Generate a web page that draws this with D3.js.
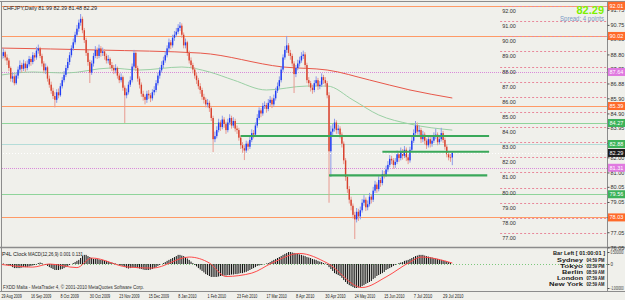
<!DOCTYPE html>
<html>
<head>
<meta charset="utf-8">
<script src="https://cdn.jsdelivr.net/npm/d3@7"></script>
<style>
  html, body { margin: 0; padding: 0; background: #f0f0eb; }
  svg { display: block; }
  text { font-family: "Liberation Sans", Arial, sans-serif; }
</style>
</head>
<body>
<div id="chart"></div>
<script>
// ---- data ----
const title = "CHFJPY,Daily  81.99 82.39 81.48 82.29";
const lastPrice = 82.29;
const spreadText = "Spread: 4 points";

const opens = [
  88.50, 88.70, 88.95, 88.60, 88.40, 87.90, 87.20, 87.35, 86.90, 87.40,
  87.80, 88.10, 87.85, 88.20, 87.90, 88.15, 88.50, 88.30, 88.75, 88.60,
  89.05, 89.20, 88.70, 88.20, 87.75, 87.95, 87.20, 86.80, 86.40, 86.05,
  85.80, 86.30, 86.10, 86.70, 87.10, 87.45, 87.90, 88.30, 88.75, 89.20,
  89.60, 90.10, 90.50, 90.90, 91.15, 90.40, 89.75, 88.90, 88.30, 87.60,
  88.20, 88.70, 89.10, 88.70, 89.20, 88.90, 89.00, 88.70, 88.40, 88.50,
  88.10, 87.90, 87.75, 87.90, 87.40, 87.10, 87.30, 86.60, 86.10, 86.30,
  86.80, 87.10, 88.00, 88.90, 87.90, 87.20, 86.80, 86.20, 86.00, 85.80,
  86.20, 86.10, 85.90, 86.30, 86.45, 86.90, 87.40, 87.75, 88.10, 88.40,
  88.75, 89.20, 89.60, 89.40, 89.90, 90.10, 90.30, 90.55, 90.70, 90.10,
  89.40, 89.60, 88.90, 88.40, 88.10, 87.80, 87.40, 87.10, 86.70, 86.45,
  86.00, 85.80, 85.50, 85.60, 85.25, 84.60, 83.20, 83.40, 83.80, 84.30,
  84.00, 84.50, 84.20, 83.80, 84.30, 84.60, 84.10, 84.40, 83.90, 83.80,
  83.30, 82.80, 82.60, 82.45, 82.90, 82.70, 83.15, 83.60, 83.50, 84.10,
  84.60, 85.10, 84.90, 85.40, 85.45, 85.20, 85.60, 85.80, 85.50, 85.90,
  86.40, 86.70, 87.10, 87.80, 88.60, 89.10, 89.40, 88.90, 88.70, 88.20,
  87.50, 87.90, 88.20, 88.40, 88.70, 88.80, 88.10, 87.10, 86.90, 86.60,
  86.45, 86.90, 87.10, 86.70, 86.80, 87.30, 87.10, 86.90, 86.10, 82.40,
  83.70, 83.90, 84.30, 83.80, 83.90, 83.50, 82.90, 81.80, 80.70, 79.90,
  79.20, 78.80, 78.20, 77.90, 78.40, 78.10, 78.50, 79.00, 79.20, 78.70,
  78.90, 79.40, 79.20, 79.80, 80.20, 79.90, 80.50, 80.30, 80.90, 80.85,
  81.20, 81.50, 81.90, 81.80, 81.50, 81.70, 82.20, 81.95, 82.40, 82.10,
  82.50, 82.00, 81.80, 82.50, 83.10, 83.60, 84.10, 83.70, 83.80, 83.20,
  83.50, 83.10, 82.80, 83.20, 82.90, 83.10, 83.40, 83.50, 83.00, 83.20,
  83.60, 83.15, 82.70, 82.20, 82.00, 81.99
];
const highs = [
  88.95, 89.20, 89.05, 88.80, 88.55, 88.00, 87.60, 87.50, 87.55, 88.00,
  88.40, 88.25, 88.45, 88.35, 88.40, 88.70, 88.65, 88.95, 88.90, 89.30,
  89.45, 89.30, 88.85, 88.35, 88.20, 88.05, 87.40, 87.00, 86.60, 86.30,
  86.50, 86.55, 86.90, 87.30, 87.70, 88.10, 88.55, 88.95, 89.40, 89.85,
  90.30, 90.75, 91.10, 91.47, 91.30, 90.55, 89.90, 89.10, 88.45, 88.40,
  88.90, 89.35, 89.25, 89.45, 89.35, 89.25, 89.15, 88.85, 88.75, 88.60,
  88.30, 88.10, 88.15, 88.00, 87.55, 87.55, 87.40, 86.75, 86.55, 87.00,
  87.35, 88.20, 89.10, 89.00, 88.05, 87.35, 86.95, 86.40, 86.15, 86.40,
  86.45, 86.25, 86.50, 86.70, 87.10, 87.60, 87.95, 88.35, 88.65, 89.00,
  89.40, 89.85, 89.75, 90.10, 90.35, 90.55, 90.80, 90.94, 90.85, 90.25,
  89.85, 89.70, 89.05, 88.60, 88.25, 87.95, 87.60, 87.25, 86.90, 86.60,
  86.20, 85.95, 85.85, 85.75, 85.40, 84.75, 83.70, 84.05, 84.55, 84.45,
  84.75, 84.65, 84.35, 84.55, 84.85, 84.75, 84.65, 84.55, 84.10, 83.95,
  83.45, 83.00, 82.80, 83.10, 83.05, 83.40, 83.85, 83.80, 84.30, 84.85,
  85.30, 85.25, 85.60, 85.70, 85.60, 85.85, 86.05, 85.95, 86.15, 86.60,
  86.95, 87.35, 88.00, 88.80, 89.35, 90.02, 89.55, 89.10, 88.85, 88.35,
  88.10, 88.45, 88.65, 88.95, 89.05, 88.95, 88.25, 87.30, 87.05, 86.80,
  87.10, 87.35, 87.25, 87.05, 87.55, 87.45, 87.30, 87.05, 86.30, 84.10,
  84.20, 84.55, 84.45, 84.15, 84.05, 83.65, 83.05, 81.95, 80.85, 80.10,
  79.40, 78.95, 78.40, 78.65, 78.60, 78.75, 79.25, 79.50, 79.35, 79.15,
  79.65, 79.55, 80.05, 80.45, 80.35, 80.75, 80.65, 81.15, 81.10, 81.45,
  81.75, 82.15, 82.10, 81.95, 81.95, 82.45, 82.35, 82.65, 82.55, 82.75,
  82.65, 82.20, 82.70, 83.35, 83.85, 84.40, 84.30, 84.10, 83.95, 83.75,
  83.65, 83.25, 83.45, 83.35, 83.35, 83.65, 83.90, 83.65, 83.45, 83.95,
  83.75, 83.30, 82.85, 82.40, 82.30, 82.39
];
const lows = [
  88.30, 88.55, 88.40, 88.10, 87.70, 87.00, 86.95, 86.75, 86.80, 87.20,
  87.60, 87.60, 87.70, 87.65, 87.75, 88.00, 88.05, 88.15, 88.35, 88.45,
  88.85, 88.55, 88.00, 87.55, 87.50, 87.00, 86.60, 86.20, 85.85, 85.30,
  85.60, 85.90, 86.00, 86.55, 86.95, 87.30, 87.75, 88.10, 88.60, 89.05,
  89.45, 89.95, 90.30, 90.70, 90.20, 89.55, 88.70, 88.05, 86.91, 87.45,
  88.00, 88.55, 88.50, 88.55, 88.65, 88.70, 88.45, 88.20, 88.20, 87.85,
  87.70, 87.50, 87.55, 87.20, 86.90, 86.95, 86.40, 84.27, 85.90, 86.15,
  86.65, 86.95, 87.85, 87.70, 87.00, 86.55, 86.00, 85.75, 85.50, 85.60,
  85.85, 85.65, 85.75, 86.10, 86.30, 86.75, 87.20, 87.60, 87.90, 88.25,
  88.60, 89.00, 89.15, 89.25, 89.70, 89.95, 90.15, 90.35, 89.90, 89.20,
  89.20, 88.70, 88.20, 87.90, 87.55, 87.20, 86.85, 86.50, 86.20, 85.80,
  85.55, 85.30, 85.30, 85.00, 84.40, 82.35, 83.00, 83.25, 83.65, 83.75,
  83.85, 83.95, 83.55, 83.65, 84.15, 83.90, 83.95, 83.70, 83.55, 83.10,
  82.55, 82.30, 81.82, 82.30, 82.45, 82.55, 83.00, 83.25, 83.35, 83.95,
  84.45, 84.65, 84.75, 85.20, 84.95, 85.05, 85.40, 85.25, 85.35, 85.75,
  86.25, 86.55, 86.95, 87.65, 88.45, 88.90, 88.70, 88.45, 88.00, 86.25,
  87.30, 87.75, 88.00, 88.25, 88.50, 87.90, 86.90, 86.65, 86.35, 86.20,
  86.30, 86.70, 86.45, 86.50, 86.65, 86.85, 86.65, 85.90, 79.00, 80.70,
  83.45, 83.70, 83.55, 83.55, 83.25, 82.65, 81.55, 80.45, 79.65, 78.95,
  78.50, 77.95, 76.60, 77.70, 77.80, 77.90, 78.35, 78.80, 78.45, 78.50,
  78.75, 78.95, 79.05, 79.65, 79.65, 79.75, 80.05, 80.15, 80.60, 80.70,
  81.05, 81.35, 81.55, 81.25, 81.30, 81.55, 81.70, 81.80, 81.85, 81.95,
  81.75, 81.55, 81.65, 82.35, 82.95, 83.45, 83.50, 83.45, 82.95, 83.00,
  82.85, 82.55, 82.65, 82.65, 82.70, 82.95, 83.20, 82.80, 82.85, 83.05,
  82.95, 82.50, 82.00, 81.80, 81.70, 81.48
];
const closes = [
  88.70, 88.95, 88.60, 88.40, 87.90, 87.20, 87.35, 86.90, 87.40, 87.80,
  88.10, 87.85, 88.20, 87.90, 88.15, 88.50, 88.30, 88.75, 88.60, 89.05,
  89.20, 88.70, 88.20, 87.75, 87.95, 87.20, 86.80, 86.40, 86.05, 85.80,
  86.30, 86.10, 86.70, 87.10, 87.45, 87.90, 88.30, 88.75, 89.20, 89.60,
  90.10, 90.50, 90.90, 91.15, 90.40, 89.75, 88.90, 88.30, 87.60, 88.20,
  88.70, 89.10, 88.70, 89.20, 88.90, 89.00, 88.70, 88.40, 88.50, 88.10,
  87.90, 87.75, 87.90, 87.40, 87.10, 87.30, 86.60, 86.10, 86.30, 86.80,
  87.10, 88.00, 88.90, 87.90, 87.20, 86.80, 86.20, 86.00, 85.80, 86.20,
  86.10, 85.90, 86.30, 86.45, 86.90, 87.40, 87.75, 88.10, 88.40, 88.75,
  89.20, 89.60, 89.40, 89.90, 90.10, 90.30, 90.55, 90.70, 90.10, 89.40,
  89.60, 88.90, 88.40, 88.10, 87.80, 87.40, 87.10, 86.70, 86.45, 86.00,
  85.80, 85.50, 85.60, 85.25, 84.60, 83.20, 83.40, 83.80, 84.30, 84.00,
  84.50, 84.20, 83.80, 84.30, 84.60, 84.10, 84.40, 83.90, 83.80, 83.30,
  82.80, 82.60, 82.45, 82.90, 82.70, 83.15, 83.60, 83.50, 84.10, 84.60,
  85.10, 84.90, 85.40, 85.45, 85.20, 85.60, 85.80, 85.50, 85.90, 86.40,
  86.70, 87.10, 87.80, 88.60, 89.10, 89.40, 88.90, 88.70, 88.20, 87.50,
  87.90, 88.20, 88.40, 88.70, 88.80, 88.10, 87.10, 86.90, 86.60, 86.45,
  86.90, 87.10, 86.70, 86.80, 87.30, 87.10, 86.90, 86.10, 82.40, 83.70,
  83.90, 84.30, 83.80, 83.90, 83.50, 82.90, 81.80, 80.70, 79.90, 79.20,
  78.80, 78.20, 77.90, 78.40, 78.10, 78.50, 79.00, 79.20, 78.70, 78.90,
  79.40, 79.20, 79.80, 80.20, 79.90, 80.50, 80.30, 80.90, 80.85, 81.20,
  81.50, 81.90, 81.80, 81.50, 81.70, 82.20, 81.95, 82.40, 82.10, 82.50,
  82.00, 81.80, 82.50, 83.10, 83.60, 84.10, 83.70, 83.80, 83.20, 83.50,
  83.10, 82.80, 83.20, 82.90, 83.10, 83.40, 83.50, 83.00, 83.20, 83.60,
  83.15, 82.70, 82.20, 82.00, 81.99, 82.29
];

// MACD(12,26,9) main values, one per bar
const macdValues = [
  0.04, 0.02, 0, -0.04, -0.06,
  -0.08, -0.13, -0.17, -0.17, -0.17, -0.17, -0.15, -0.13, -0.13, -0.13, -0.10, -0.08, -0.06, -0.04, -0.02,
  0.04, 0.06, 0.04, 0, -0.04,
  -0.08, -0.13, -0.17, -0.21, -0.25, -0.25, -0.25, -0.23, -0.21, -0.17, -0.13, -0.08, -0.04, 0, 0.04, 0.08, 0.13,
  0.17, 0.25, 0.33, 0.38, 0.38, 0.33, 0.29, 0.25,
  0.21, 0.21, 0.21, 0.19, 0.17, 0.17, 0.15, 0.13, 0.10, 0.08, 0.06, 0.04, 0.02, 0, -0.04,
  -0.06, -0.08, -0.13, -0.17, -0.19, -0.17, -0.15, -0.13, -0.15, -0.17, -0.19, -0.21, -0.23, -0.25, -0.25, -0.25, -0.23, -0.21, -0.17, -0.13,
  -0.08, -0.04, 0, 0.04, 0.08, 0.13, 0.17,
  0.21, 0.25, 0.29, 0.33, 0.38, 0.38, 0.35, 0.33, 0.29, 0.23, 0.17, 0.10, 0.04,
  -0.04, -0.10, -0.17, -0.23, -0.29, -0.35, -0.42, -0.46, -0.50, -0.54, -0.54, -0.54, -0.54, -0.52, -0.50,
  -0.50, -0.48, -0.48, -0.46, -0.46, -0.44, -0.44, -0.42, -0.42, -0.40,
  -0.38, -0.38, -0.35, -0.33, -0.29, -0.25, -0.21, -0.17, -0.13, -0.08, -0.06,
  -0.04, -0.02, 0, 0.02,
  0.04, 0.08, 0.13, 0.17, 0.21, 0.25, 0.29, 0.33, 0.38, 0.42, 0.46, 0.50, 0.50, 0.48, 0.46, 0.44,
  0.42, 0.40, 0.38, 0.35, 0.33, 0.29, 0.27, 0.25, 0.21, 0.19, 0.17, 0.13, 0.10, 0.08, 0.04, 0.02,
  -0.04, -0.13, -0.21, -0.29, -0.38, -0.42, -0.46, -0.50, -0.58, -0.67, -0.75, -0.83, -0.88, -0.92, -0.96, -1.00, -1.00, -0.98,
  -0.96, -0.92, -0.88, -0.83, -0.79, -0.75, -0.71, -0.63, -0.58, -0.50, -0.46, -0.42, -0.38, -0.33, -0.25, -0.21,
  -0.17, -0.13, -0.08, -0.04, 0, 0.04, 0.06, 0.08, 0.13, 0.15, 0.17,
  0.21, 0.25, 0.29, 0.33, 0.35, 0.38, 0.38, 0.38, 0.35, 0.33, 0.31,
  0.29, 0.27, 0.25, 0.23, 0.21, 0.19, 0.17, 0.15, 0.13, 0.10, 0.08, 0.04, 0.00
];
// MACD signal line, read at a few bars
const signalBars   = [0, 17, 26, 41, 49, 68, 82, 102, 113, 122, 136, 147, 162, 177, 196, 209, 222, 228, 245];
const signalValues = [-0.02, -0.13, 0, -0.15, 0.25, -0.12, -0.17, 0.29, 0.04, -0.52, -0.38, 0.04, 0.44, 0.04, -0.98, -0.54, 0.08, 0.29, 0.04];

// moving averages, read at a few bars
const slowMaBars   = [0, 53, 108, 153, 177, 200, 222, 245];
const slowMaValues = [89.22, 89.09, 88.89, 87.97, 87.77, 87.11, 86.45, 85.92];
const fastMaBars   = [0, 17, 35, 59, 75, 98, 113, 126, 144, 166, 177, 191, 205, 222, 245];
const fastMaValues = [87.44, 87.64, 87.57, 87.90, 87.77, 87.97, 87.64, 87.11, 86.45, 86.71, 86.71, 85.79, 84.80, 84.20, 83.80];

// horizontal levels across the chart
const levelPrices = [92.01, 90.02, 87.64, 85.39, 84.27, 82.88, 81.31, 79.56, 78.03];
const levelKinds  = ["orange", "orange", "pivot", "orange", "green", "aqua", "pivot", "green", "orange"];

// thick support/resistance segments (bar from, bar to)
const channelPrices = [83.41, 82.37, 80.81];
const channelFrom   = [130, 207, 178];
const channelTo     = [265, 265, 264];

// round number lines on the right side
const roundPrices = [92, 91, 90, 89, 88, 87, 86, 85, 84, 83, 82, 81, 80, 79, 78, 77];
const roundFromBar = 271;

const priceTicks = [91.75, 90.75, 89.83, 88.80, 87.85, 86.88, 85.90, 84.90, 83.95, 82.95, 82.00, 81.00, 80.05, 79.05, 78.05, 77.05, 76.05];
const macdTicks = [0.5, 0, -1];
const macdTickLabels = ["0.500000", "0", "-1.000000"];

const dateBars = [0, 16, 32, 48, 64, 80, 96, 112, 128, 144, 160, 176, 192, 208, 224, 240];
const dateLabels = ["29 Aug 2009", "16 Sep 2009", "8 Oct 2009", "30 Oct 2009", "23 Nov 2009", "15 Dec 2009",
  "8 Jan 2010", "1 Feb 2010", "23 Feb 2010", "17 Mar 2010", "8 Apr 2010", "30 Apr 2010",
  "24 May 2010", "15 Jun 2010", "7 Jul 2010", "29 Jul 2010"];

const clockHeader = "Bar Left [ 01:00:01 ]";
const clockCities = ["Sydney", "Tokyo", "Berlin", "London", "New York"];
const clockTimes  = ["04:59 PM", "03:59 PM", "08:59 AM", "07:59 AM", "02:59 AM"];

// ---- drawing ----
const W = 625, H = 300;
const axisX = 607;
const mainTop = 2, mainBottom = 247;
const subTop = 249, subBottom = 291;

const levelStyle = {
  orange: { stroke: "#ff9a66", dash: null, tag: "#ff6a2a" },
  pivot:  { stroke: "#d98ad9", dash: "1,1", tag: "#e07ae0" },
  green:  { stroke: "#8fd49a", dash: null, tag: "#3cb35a" },
  aqua:   { stroke: "#b4dcd8", dash: null, tag: "#3cb35a" }
};

const svg = d3.select("#chart").append("svg")
    .attr("width", W)
    .attr("height", H);

svg.append("rect").attr("width", W).attr("height", H).attr("fill", "#f0f0eb");

const defs = svg.append("defs");
defs.append("clipPath").attr("id", "clip-main")
  .append("rect").attr("x", 2).attr("y", mainTop).attr("width", axisX - 2).attr("height", mainBottom - mainTop);
defs.append("clipPath").attr("id", "clip-sub")
  .append("rect").attr("x", 2).attr("y", subTop).attr("width", axisX - 2).attr("height", subBottom - subTop);

const n = closes.length;
const x = d3.scaleLinear().domain([0, n - 1]).range([1.5, 452.3]);
const y = d3.scaleLinear().domain([77, 92]).range([233, 6]);
const ym = d3.scaleLinear().domain([-1, 0.5]).range([288, 252]);

const main = svg.append("g").attr("clip-path", "url(#clip-main)");

// horizontal levels
levelPrices.forEach((p, i) => {
  const st = levelStyle[levelKinds[i]];
  main.append("line")
    .attr("x1", 0).attr("x2", axisX)
    .attr("y1", Math.round(y(p)) + 0.5).attr("y2", Math.round(y(p)) + 0.5)
    .attr("stroke", st.stroke)
    .attr("stroke-width", 1)
    .attr("stroke-dasharray", st.dash);
});

// round number lines + labels
roundPrices.forEach(p => {
  const yy = Math.round(y(p)) + 0.5;
  main.append("line")
    .attr("x1", x(roundFromBar)).attr("x2", axisX)
    .attr("y1", yy).attr("y2", yy)
    .attr("stroke", "#e8889a")
    .attr("stroke-width", 1)
    .attr("stroke-dasharray", "2,2");
  main.append("text")
    .attr("x", x(roundFromBar) + 2)
    .attr("y", yy + 6)
    .attr("font-size", "5.5px")
    .attr("fill", "#303030")
    .text(p.toFixed(2));
});

// moving averages
const maLine = d3.line().curve(d3.curveMonotoneX);
main.append("path")
  .attr("d", maLine(slowMaBars.map((b, i) => [x(b), y(slowMaValues[i])])))
  .attr("fill", "none").attr("stroke", "#e8584a").attr("stroke-width", 1);
main.append("path")
  .attr("d", maLine(fastMaBars.map((b, i) => [x(b), y(fastMaValues[i])])))
  .attr("fill", "none").attr("stroke", "#9ad0a4").attr("stroke-width", 1);

// candles
const candles = main.append("g");
d3.range(n).forEach(i => {
  const up = closes[i] >= opens[i];
  const cx = x(i);
  candles.append("line")
    .attr("x1", cx).attr("x2", cx)
    .attr("y1", y(highs[i])).attr("y2", y(lows[i]))
    .attr("stroke", up ? "#8c9ae8" : "#e89a90")
    .attr("stroke-width", 1);
  const top = y(Math.max(opens[i], closes[i]));
  const bot = y(Math.min(opens[i], closes[i]));
  candles.append("rect")
    .attr("x", cx - 0.7)
    .attr("y", top)
    .attr("width", 1.4)
    .attr("height", Math.max(bot - top, 0.8))
    .attr("fill", up ? "#1f3cf5" : "#d8402c");
});

// thick green support / resistance segments
channelPrices.forEach((p, i) => {
  main.append("line")
    .attr("x1", x(channelFrom[i])).attr("x2", x(channelTo[i]))
    .attr("y1", y(p)).attr("y2", y(p))
    .attr("stroke", "#3aa85a")
    .attr("stroke-width", 2.2);
});

// bid line
main.append("line")
  .attr("x1", 0).attr("x2", axisX)
  .attr("y1", Math.round(y(lastPrice)) + 0.5).attr("y2", Math.round(y(lastPrice)) + 0.5)
  .attr("stroke", "#ffffff").attr("stroke-width", 1).attr("stroke-dasharray", "1,2");

// big price + spread
svg.append("text")
  .attr("x", 604).attr("y", 14)
  .attr("text-anchor", "end")
  .attr("font-size", "11px").attr("font-weight", "bold")
  .attr("fill", "#7cf000")
  .text(lastPrice.toFixed(2));
svg.append("text")
  .attr("x", 604).attr("y", 21)
  .attr("text-anchor", "end")
  .attr("font-size", "6.5px")
  .attr("fill", "#7898c4")
  .attr("textLength", 44).attr("lengthAdjust", "spacingAndGlyphs")
  .text(spreadText);

// title
svg.append("text")
  .attr("x", 3).attr("y", 9.5)
  .attr("font-size", "6px").attr("fill", "#202020")
  .attr("textLength", 94).attr("lengthAdjust", "spacingAndGlyphs")
  .text(title);

// ---- MACD sub window ----
const sub = svg.append("g").attr("clip-path", "url(#clip-sub)");
sub.append("line")
  .attr("x1", 0).attr("x2", axisX)
  .attr("y1", Math.round(ym(0)) + 0.5).attr("y2", Math.round(ym(0)) + 0.5)
  .attr("stroke", "#7cc87c").attr("stroke-dasharray", "1,2");
macdValues.forEach((v, i) => {
  sub.append("line")
    .attr("x1", x(i)).attr("x2", x(i))
    .attr("y1", ym(0)).attr("y2", ym(v))
    .attr("stroke", "#101010")
    .attr("stroke-width", 1);
});
sub.append("path")
  .attr("d", d3.line().curve(d3.curveMonotoneX)(signalBars.map((b, i) => [x(b), ym(signalValues[i])])))
  .attr("fill", "none").attr("stroke", "#ff4a4a").attr("stroke-width", 1);

svg.append("text")
  .attr("x", 2).attr("y", 256).attr("font-size", "5.5px").attr("fill", "#202020")
  .text("P4L Clock");
svg.append("text")
  .attr("x", 28).attr("y", 256).attr("font-size", "5.5px").attr("fill", "#202020")
  .attr("textLength", 55).attr("lengthAdjust", "spacingAndGlyphs")
  .text("MACD(12,26,9) 0.001 0.131");

// clock block
const cityWidths = [26, 23, 21, 26, 34];
svg.append("text")
  .attr("x", 553).attr("y", 255)
  .attr("font-size", "6px").attr("font-weight", "bold").attr("fill", "#202020")
  .attr("textLength", 52).attr("lengthAdjust", "spacingAndGlyphs")
  .text(clockHeader);
clockCities.forEach((c, i) => {
  const yy = 261.5 + i * 6;
  svg.append("text")
    .attr("x", 583 - cityWidths[i]).attr("y", yy)
    .attr("font-size", "6px").attr("font-weight", "bold").attr("fill", "#202020")
    .attr("textLength", cityWidths[i]).attr("lengthAdjust", "spacingAndGlyphs")
    .text(c);
  svg.append("text")
    .attr("x", 586.5).attr("y", yy)
    .attr("font-size", "6px").attr("font-weight", "bold").attr("fill", "#202020")
    .attr("textLength", 18).attr("lengthAdjust", "spacingAndGlyphs")
    .text(clockTimes[i]);
});

svg.append("text")
  .attr("x", 3).attr("y", 289).attr("font-size", "5.5px").attr("fill", "#303030")
  .attr("textLength", 141).attr("lengthAdjust", "spacingAndGlyphs")
  .text("FXDD Malta - MetaTrader 4, \u00a9 2001-2010 MetaQuotes Software Corp.");

// ---- frame and axes ----
const frame = svg.append("g").attr("stroke", "#8c8c8c").attr("fill", "none");
frame.append("line").attr("x1", 0).attr("x2", W).attr("y1", 1.5).attr("y2", 1.5);
frame.append("line").attr("x1", 1.5).attr("x2", 1.5).attr("y1", 1).attr("y2", subBottom);
frame.append("line").attr("x1", axisX + 0.5).attr("x2", axisX + 0.5).attr("y1", 1).attr("y2", subBottom);
frame.append("line").attr("x1", 0).attr("x2", W).attr("y1", mainBottom + 0.5).attr("y2", mainBottom + 0.5).attr("stroke-width", 1.5);
frame.append("line").attr("x1", 0).attr("x2", W).attr("y1", subBottom + 0.5).attr("y2", subBottom + 0.5);

// right price axis
const yAxis = d3.axisRight(y).tickValues(priceTicks).tickSize(2).tickFormat(d3.format(".2f"));
svg.append("g")
  .attr("transform", `translate(${axisX + 0.5},0)`)
  .call(yAxis)
  .call(g => g.select(".domain").remove())
  .call(g => g.selectAll("line").attr("stroke", "#505050"))
  .call(g => g.selectAll("text").attr("font-size", "5.5px").attr("fill", "#303030").attr("x", 3)
      .attr("font-family", "Liberation Sans, Arial, sans-serif"));

// MACD axis
svg.append("g")
  .attr("transform", `translate(${axisX + 0.5},0)`)
  .call(d3.axisRight(ym).tickValues(macdTicks).tickSize(2).tickFormat((d, i) => macdTickLabels[i]))
  .call(g => g.select(".domain").remove())
  .call(g => g.selectAll("line").attr("stroke", "#505050"))
  .call(g => g.selectAll("text").attr("font-size", "4.5px").attr("fill", "#303030").attr("x", 3)
      .attr("font-family", "Liberation Sans, Arial, sans-serif")
      .attr("textLength", d => d === 0 ? null : 13).attr("lengthAdjust", "spacingAndGlyphs"));

// level price tags on the axis
const tagPrices = levelPrices.concat([lastPrice]);
const tagColors = levelKinds.map(k => levelStyle[k].tag).concat(["#1c1c1c"]);
tagPrices.forEach((p, i) => {
  const yy = y(p);
  svg.append("rect")
    .attr("x", axisX + 1).attr("y", yy - 4)
    .attr("width", 17).attr("height", 8)
    .attr("fill", tagColors[i]);
  svg.append("text")
    .attr("x", axisX + 2.5).attr("y", yy + 2)
    .attr("font-size", "5.5px").attr("fill", "#ffffff")
    .text(p.toFixed(2));
});

// date axis
const xAxis = d3.axisBottom(x).tickValues(dateBars).tickSize(0).tickFormat((d, i) => dateLabels[i]);
svg.append("g")
  .attr("transform", `translate(0,${subBottom + 1})`)
  .call(xAxis)
  .call(g => g.select(".domain").remove())
  .call(g => g.selectAll("text")
      .attr("text-anchor", "start").attr("dx", "-0.5").attr("dy", "0.55em")
      .attr("font-size", "5.5px").attr("fill", "#202020")
      .attr("font-family", "Liberation Sans, Arial, sans-serif")
      .attr("textLength", (d, i) => dateLabels[i].length * 1.85)
      .attr("lengthAdjust", "spacingAndGlyphs"));
</script>
</body>
</html>
